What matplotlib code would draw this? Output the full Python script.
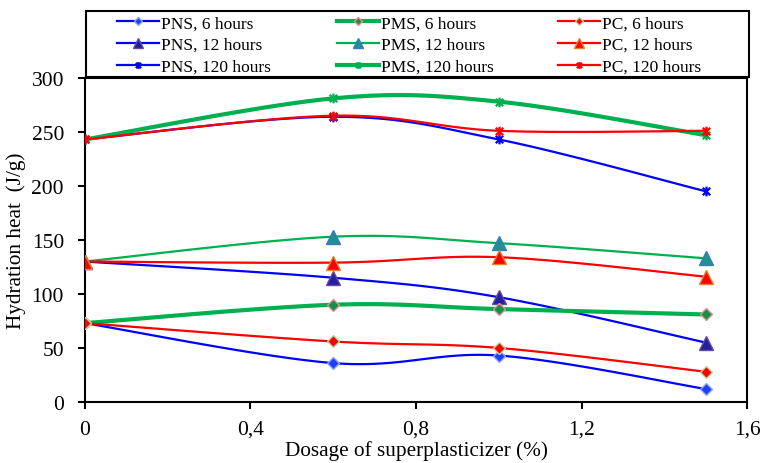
import matplotlib
matplotlib.use("Agg")
import matplotlib.pyplot as plt
from matplotlib.path import Path
from matplotlib.patches import Rectangle
import numpy as np

plt.rcParams['font.family'] = ['Liberation Serif', 'DejaVu Serif']

dosage = [0, 0.6, 1.0, 1.5]

pns_6 = [73, 36, 43, 12]
pms_6 = [73, 90, 86, 81]
pc_6 = [73, 56, 50, 28]
pns_12 = [130, 115, 97, 55]
pms_12 = [130, 153, 147, 133]
pc_12 = [130, 129, 134, 116]
pns_120 = [243, 264, 243, 195]
pms_120 = [243, 281, 278, 247]
pc_120 = [243, 265, 251, 251]

xticks = [0, 0.4, 0.8, 1.2, 1.6]
xtick_labels = ['0', '0,4', '0,8', '1,2', '1,6']
yticks = [0, 50, 100, 150, 200, 250, 300]

blue = '#0000FF'
green = '#00B050'
red = '#FF0000'

# asterisk marker (x with a vertical bar), drawn as open strokes
asterisk = Path([(-1, -1), (1, 1), (-1, 1), (1, -1), (0, -1.3), (0, 1.3)],
                [Path.MOVETO, Path.LINETO, Path.MOVETO, Path.LINETO, Path.MOVETO, Path.LINETO])


def smooth(x, y, n=40):
    # bezier curve through the points, control points a la catmull-rom
    p = np.column_stack([x, y]).astype(float)
    ext = np.vstack([p[0], p, p[-1]])
    out = []
    t = np.linspace(0, 1, n)[:, None]
    for i in range(len(p) - 1):
        p0 = ext[i + 1]
        p3 = ext[i + 2]
        c1 = p0 + (ext[i + 2] - ext[i]) / 6
        c2 = p3 - (ext[i + 3] - ext[i + 1]) / 6
        seg = ((1 - t) ** 3) * p0 + 3 * ((1 - t) ** 2) * t * c1 + 3 * (1 - t) * t ** 2 * c2 + t ** 3 * p3
        out.append(seg)
    s = np.vstack(out)
    return s[:, 0], s[:, 1]


series = [
    # label, data, line colour, lw, marker, face, edge, size
    ('PNS, 6 hours', pns_6, blue, 1.6, 'D', '#1F3FFF', '#8FA8E8', 6),
    ('PNS, 12 hours', pns_12, blue, 1.6, '^', '#2020A0', '#6A4A9A', 9.5),
    ('PNS, 120 hours', pns_120, blue, 1.6, asterisk, blue, blue, 7),
    ('PMS, 6 hours', pms_6, green, 3, 'D', '#109048', '#E09090', 6),
    ('PMS, 12 hours', pms_12, green, 1.6, '^', '#209090', '#3A7AC0', 9.5),
    ('PMS, 120 hours', pms_120, green, 3, asterisk, '#00B050', '#00B050', 7),
    ('PC, 6 hours', pc_6, red, 1.6, 'D', '#FF0000', '#B8D8A0', 6),
    ('PC, 12 hours', pc_12, red, 1.6, '^', '#FF0000', '#E08030', 9.5),
    ('PC, 120 hours', pc_120, red, 1.6, asterisk, red, red, 7),
]

fig = plt.figure(figsize=(7.64, 4.64), dpi=100)
ax = fig.add_axes([0.111, 0.1315, 0.867, 0.6985])

handles = []
for label, y, col, lw, mk, fc, ec, ms in series:
    sx, sy = smooth(dosage, y)
    ax.plot(sx, sy, color=col, lw=lw, zorder=2)
    mew = 1.6 if mk is asterisk else 1.0
    ax.plot(dosage, y, ls='none', marker=mk, ms=ms, mfc=fc, mec=ec, mew=mew, zorder=3)
    h, = ax.plot([], [], color=col, lw=lw, marker=mk, ms=ms * 0.7, mfc=fc, mec=ec, mew=mew)
    h.set_label(label)
    handles.append(h)

ax.set_xlim(0, 1.6)
ax.set_ylim(0, 300)
ax.set_xticks(xticks)
ax.set_xticklabels(xtick_labels)
ax.set_yticks(yticks)
ax.tick_params(direction='out', length=5, width=1.5, labelsize=15.5, colors='black')
ax.tick_params(axis='x', pad=8)
ax.tick_params(axis='y', pad=10)
for sp in ax.spines.values():
    sp.set_linewidth(1.5)
    sp.set_color('black')

ax.set_xlabel('Dosage of superplasticizer (%)', fontsize=15.3, labelpad=1)
ax.set_ylabel('Hydration heat  (J/g)', fontsize=15.3, labelpad=4)

# legend above the plot area: one column per cement type inside a shared box
fig.patches.append(Rectangle((86 / 764, 1 - 78 / 464), 663 / 764, 66 / 464, transform=fig.transFigure,
                             fill=False, edgecolor='black', linewidth=1.5))
for k, x0 in enumerate([117, 337, 558]):
    fig.legend(handles=handles[3 * k:3 * k + 3], loc='upper left',
               bbox_to_anchor=(x0 / 764, 1 - 16 / 464),
               fontsize=12.5, frameon=False, handlelength=2.4,
               handletextpad=0.15, borderaxespad=0, labelspacing=0.33,
               borderpad=0)

fig.savefig('out.png', dpi=100)
